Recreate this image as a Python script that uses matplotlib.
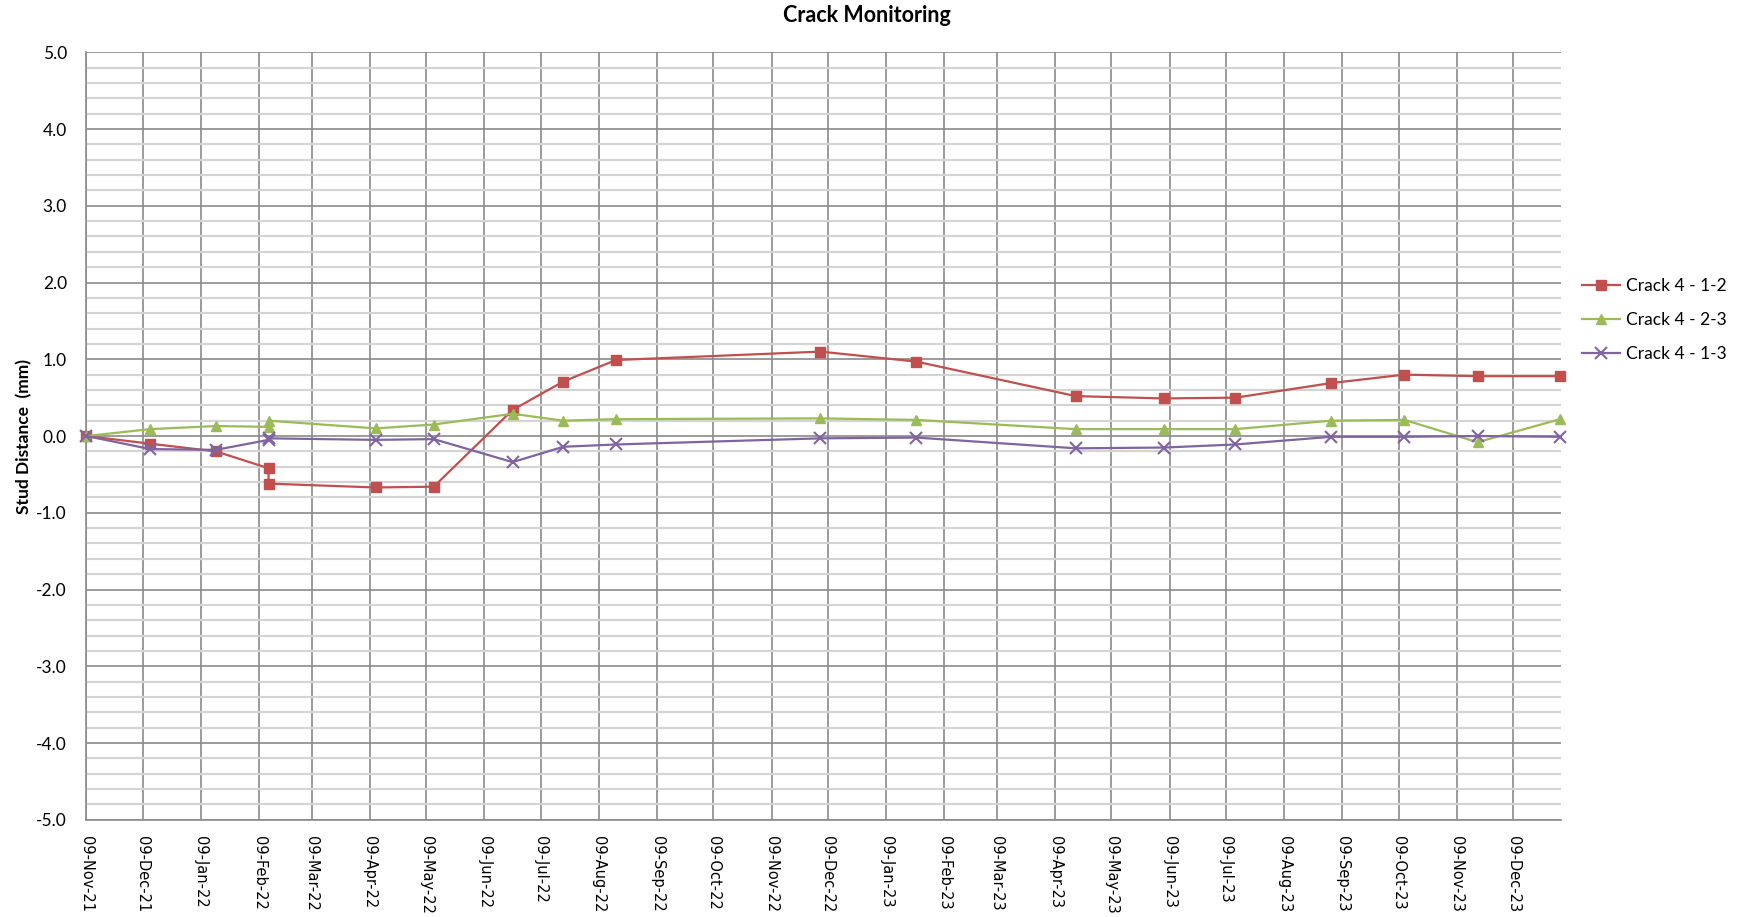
import datetime as dt

import matplotlib
matplotlib.use("Agg")
import matplotlib.pyplot as plt
import matplotlib.dates as mdates
from matplotlib.ticker import MultipleLocator

# survey dates and stud distances (mm)
dates = ["2021-11-09", "2021-12-13", "2022-01-17", "2022-02-14", "2022-02-14",
         "2022-04-12", "2022-05-13", "2022-06-24", "2022-07-21", "2022-08-18",
         "2022-12-05", "2023-01-25", "2023-04-20", "2023-06-06", "2023-07-14",
         "2023-09-03", "2023-10-12", "2023-11-20", "2024-01-03"]
crack_1_2 = [0.0, -0.10, -0.20, -0.42, -0.62, -0.67, -0.66, 0.34, 0.71, 0.99,
             1.10, 0.97, 0.52, 0.49, 0.50, 0.69, 0.80, 0.78, 0.78]
crack_2_3 = [0.0, 0.09, 0.13, 0.12, 0.20, 0.10, 0.15, 0.29, 0.20, 0.22,
             0.23, 0.21, 0.09, 0.09, 0.09, 0.20, 0.21, -0.08, 0.22]
crack_1_3 = [0.0, -0.17, -0.18, -0.05, -0.03, -0.05, -0.04, -0.34, -0.14, -0.11,
             -0.03, -0.02, -0.16, -0.15, -0.11, -0.01, -0.01, 0.0, -0.01]

series = [
    ("Crack 4 - 1-2", crack_1_2, "#C0504D", "s"),
    ("Crack 4 - 2-3", crack_2_3, "#9BBB59", "^"),
    ("Crack 4 - 1-3", crack_1_3, "#8064A2", "x"),
]

x = [dt.datetime.strptime(d, "%Y-%m-%d") for d in dates]

fig = plt.figure(figsize=(17.39, 9.17), dpi=100)
ax = fig.add_axes([0.0497, 0.106, 0.848, 0.837])

for name, vals, col, mk in series:
    ax.plot(x, vals, color=col, lw=1.6, marker=mk, ms=7.5 if mk != "x" else 8,
            mew=1.5 if mk == "x" else 1.0, label=name, clip_on=False, zorder=3)

ax.set_ylim(-5, 5)
ax.set_xlim(dt.datetime(2021, 11, 9), dt.datetime(2024, 1, 3, 12))

ax.yaxis.set_major_locator(MultipleLocator(1.0))
ax.yaxis.set_minor_locator(MultipleLocator(0.2))
ax.yaxis.set_major_formatter(plt.FuncFormatter(lambda v, p: f"{v:.1f}"))
ax.xaxis.set_major_locator(mdates.MonthLocator(bymonthday=9))
ax.xaxis.set_major_formatter(mdates.DateFormatter("%d-%b-%y"))

ax.grid(which="minor", axis="y", color="#d4d4d4", lw=1.6, zorder=0)
ax.grid(which="major", axis="y", color="#8a8a8a", lw=1.2, zorder=1)
ax.grid(which="major", axis="x", color="#8a8a8a", lw=1.2, zorder=1)
ax.set_axisbelow(True)

for s in ["top", "right"]:
    ax.spines[s].set_visible(False)
for s in ["left", "bottom"]:
    ax.spines[s].set_color("#8a8a8a")
    ax.spines[s].set_linewidth(1.2)

ax.tick_params(axis="both", which="both", length=0)
ax.tick_params(axis="y", pad=14)
ax.tick_params(axis="x", pad=12)
for t in ax.get_yticklabels():
    t.set_fontfamily("Lato")
    t.set_fontsize(12.5)
for t in ax.get_xticklabels():
    t.set_fontfamily("DejaVu Sans")
    t.set_fontsize(10.5)
    t.set_rotation(-90)
    t.set_ha("center")
    t.set_va("top")

ax.set_ylabel("Stud Distance  (mm)", fontfamily="Lato", fontweight="bold",
              fontsize=12.5, labelpad=10)
ax.yaxis.set_label_coords(-0.037, 0.5)

fig.text(0.4987, 0.983, "Crack Monitoring", ha="center", va="center",
         fontfamily="Lato", fontweight="bold", fontsize=15.5)

leg = ax.legend(loc="upper left", bbox_to_anchor=(1.006, 0.722), frameon=False,
                prop={"family": "Lato", "size": 12.5}, handlelength=2.2,
                handletextpad=0.3, labelspacing=1.05, borderaxespad=0.3)

fig.savefig("out.png", dpi=100)
